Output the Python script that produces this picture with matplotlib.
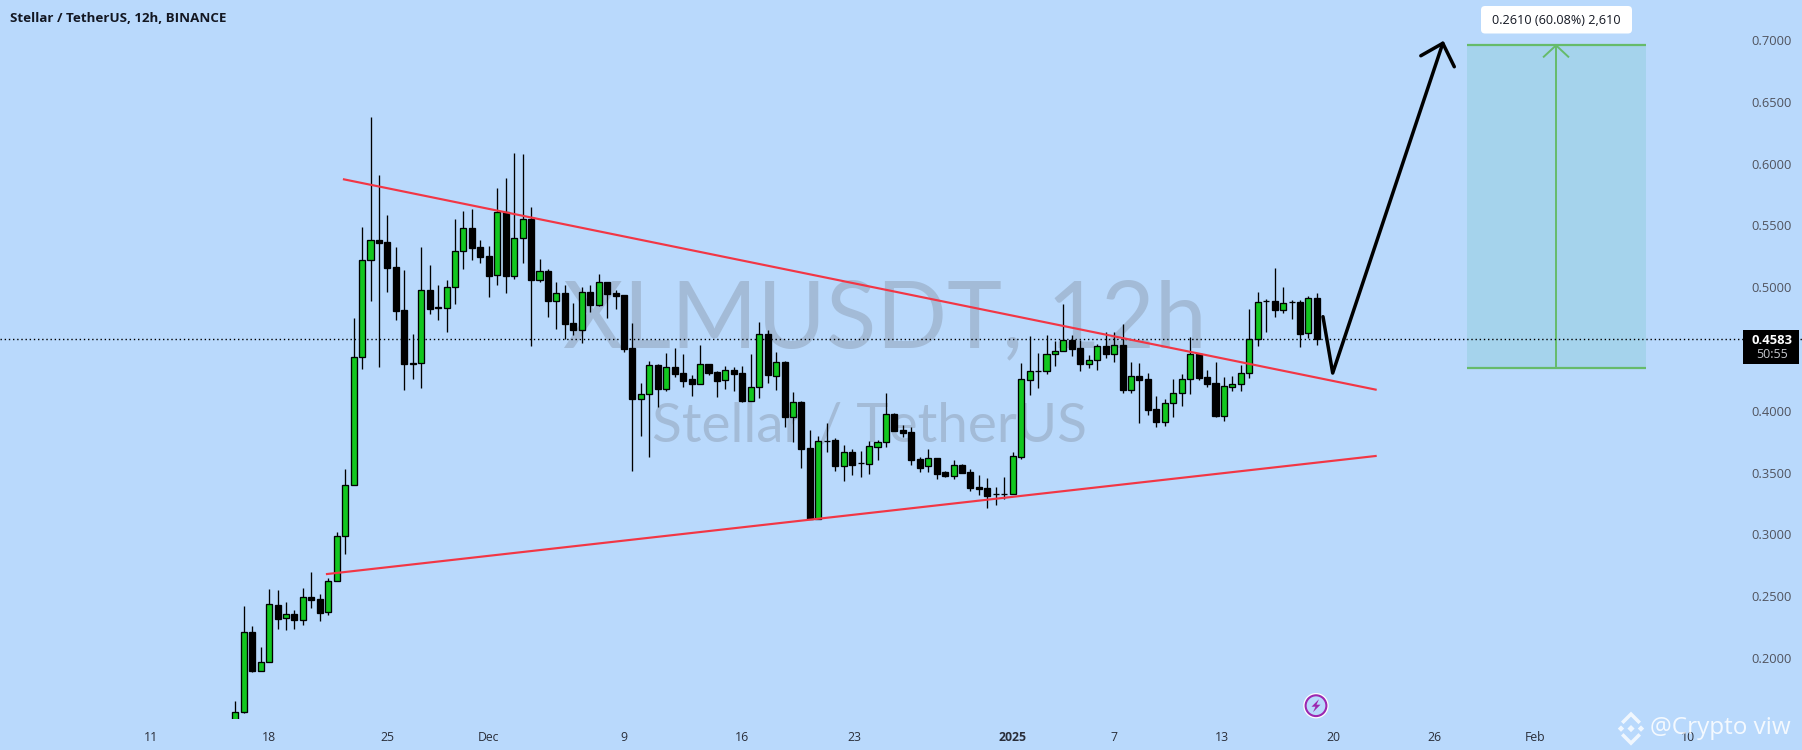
import matplotlib
matplotlib.use("Agg")
import matplotlib.pyplot as plt
from matplotlib.patches import FancyBboxPatch, Polygon, Circle, Rectangle
from matplotlib.transforms import Affine2D

opens = [.1418,.1566,.2209,.1898,.1966,.2427,.2322,.2354,.2311,.2494,
 .2475,.2371,.2621,.2985,.3398,.4433,.5218,.5380,.5364,.5161,
 .4814,.4385,.4385,.4975,.4838,.4830,.4999,.5291,.5477,.5326,
 .5250,.5097,.5609,.5094,.5396,.5552,.5061,.5129,.4891,.4951,
 .4708,.4657,.4959,.4859,.5040,.4954,.4937,.4506,.4099,.4134,
 .4369,.4179,.4353,.4306,.4256,.4220,.4377,.4312,.4247,.4328,
 .4304,.4077,.4191,.4620,.4285,.4393,.3953,.4072,.3697,.3128,
 .3759,.3764,.3556,.3667,.3576,.3573,.3710,.3746,.3973,.3845,
 .3827,.3608,.3551,.3616,.3503,.3476,.3560,.3503,.3386,.3373,
 .3326,.3326,.3325,.3629,.4252,.4321,.4320,.4458,.4482,.4571,
 .4506,.4382,.4409,.4522,.4463,.4531,.4171,.4280,.4255,.4013,
 .3912,.4061,.4142,.4255,.4463,.4272,.4223,.3961,.4196,.4215,
 .4304,.4579,.4892,.4886,.4818,.4881,.4881,.4632,.4911]
closes = [.1566,.2209,.1898,.1966,.2435,.2319,.2354,.2311,.2492,.2472,
 .2367,.2621,.2985,.3398,.4433,.5218,.5380,.5361,.5158,.4810,
 .4382,.4382,.4975,.4827,.4835,.4999,.5291,.5477,.5320,.5247,
 .5094,.5606,.5094,.5396,.5550,.5061,.5129,.4891,.4951,.4705,
 .4657,.4959,.4859,.5040,.4948,.4932,.4503,.4099,.4134,.4369,
 .4179,.4353,.4298,.4244,.4220,.4377,.4309,.4244,.4328,.4301,
 .4082,.4191,.4620,.4293,.4393,.3950,.4069,.3694,.3128,.3754,
 .3755,.3556,.3665,.3565,.3575,.3713,.3746,.3973,.3840,.3824,
 .3605,.3540,.3616,.3492,.3476,.3560,.3500,.3378,.3370,.3314,
 .3325,.3325,.3632,.4255,.4320,.4320,.4458,.4482,.4571,.4503,
 .4382,.4409,.4522,.4463,.4531,.4171,.4280,.4252,.4010,.3912,
 .4061,.4142,.4255,.4458,.4268,.4220,.3961,.4199,.4215,.4304,
 .4579,.4878,.4891,.4818,.4870,.4880,.4624,.4911,.4583]
highs = [.1653,.2421,.2260,.2090,.2559,.2551,.2454,.2389,.2567,.2696,
 .2518,.2648,.3020,.3530,.4751,.5488,.6377,.5908,.5585,.5326,
 .5140,.4622,.5326,.5180,.5018,.5059,.5552,.5617,.5633,.5382,
 .5334,.5803,.5884,.6086,.6078,.5649,.5229,.5148,.5043,.5018,
 .4873,.5002,.5018,.5107,.5040,.4978,.4937,.4711,.4226,.4403,
 .4379,.4468,.4509,.4460,.4290,.4533,.4377,.4325,.4363,.4355,
 .4363,.4460,.4719,.4654,.4476,.4403,.4153,.4080,.3845,.3797,
 .3902,.3781,.3724,.3692,.3675,.3754,.3764,.4145,.3979,.3886,
 .3870,.3627,.3692,.3616,.3513,.3602,.3570,.3530,.3481,.3457,
 .3384,.3465,.3667,.4387,.4606,.4468,.4614,.4565,.4865,.4614,
 .4573,.4452,.4541,.4638,.4638,.4703,.4395,.4387,.4306,.4120,
 .4096,.4258,.4298,.4598,.4470,.4331,.4395,.4274,.4282,.4371,
 .4824,.4962,.4905,.5156,.5002,.4897,.4897,.4929,.4954]
lows = [.1400,.1558,.1890,.1898,.1966,.2238,.2230,.2238,.2270,.2408,
 .2302,.2351,.2621,.2845,.3398,.4341,.4891,.4357,.4964,.4738,
 .4171,.4260,.4188,.4786,.4738,.4640,.4867,.5150,.5223,.5199,
 .4924,.5021,.4956,.5069,.5199,.4527,.5045,.4762,.4662,.4584,
 .4616,.4552,.4802,.4851,.4754,.4827,.4479,.3516,.3799,.3629,
 .4029,.4163,.4276,.4196,.4123,.4220,.4290,.4115,.4179,.4163,
 .4074,.4077,.4107,.4228,.4171,.3872,.3751,.3540,.3128,.3128,
 .3670,.3516,.3435,.3484,.3467,.3492,.3605,.3710,.3840,.3791,
 .3565,.3508,.3508,.3451,.3467,.3451,.3500,.3354,.3322,.3217,
 .3239,.3290,.3325,.3613,.4131,.4183,.4301,.4366,.4482,.4446,
 .4325,.4349,.4333,.4430,.4398,.4142,.4147,.3904,.3969,.3872,
 .3880,.3953,.4042,.4139,.4250,.4196,.3953,.3921,.4163,.4163,
 .4268,.4527,.4640,.4762,.4794,.4746,.4519,.4592,.4535]

price_ticks = [0.20, 0.25, 0.30, 0.35, 0.40, 0.45, 0.50, 0.55, 0.60, 0.65, 0.70]
price_labels = ["0.2000", "0.2500", "0.3000", "0.3500", "0.4000", "", "0.5000", "0.5500", "0.6000", "0.6500", "0.7000"]
date_ticks = [-10, 4, 18, 30, 46, 60, 73.3, 92, 104, 116.8, 129.9, 141.9, 153.8, 171.9]
date_labels = ["11", "18", "25", "Dec", "9", "16", "23", "2025", "7", "13", "20", "26", "Feb", "10"]

upper_x, upper_y = [12.86, 134.95], [.5873, .4172]
lower_x, lower_y = [10.85, 134.95], [.2680, .3635]
path_x, path_y = [128.72, 129.87, 142.9], [.4762, .4306, .6974]
head_x, head_y = [140.3, 142.9, 144.26], [.6873, .6974, .6784]
range_x0, range_x1, range_mid = 145.8, 166.95, 156.3
range_low, range_high = .4347, .6957
last_price = .4583

BG = "#b9d9fc"
GREEN = "#12c71f"
RED = "#f23645"
TV = "#66bb6a"
FONT = ["Open Sans", "DejaVu Sans"]
plt.rcParams["font.family"] = FONT

W, H, PANE = 1802, 750, 718.5
fig = plt.figure(figsize=(W / 100, H / 100), dpi=100, facecolor=BG)
ax = fig.add_axes([0, (H - PANE) / H, 1, PANE / H], facecolor=BG)
DX, X0 = 8.45, 235.3
ax.set_xlim(-X0 / DX, (W - X0) / DX)
ax.set_ylim(.7324 - .000809 * PANE, .7324)
for s in ax.spines.values():
    s.set_visible(False)
px = Affine2D().scale(1, -1).translate(0, H)

# watermark
ax.text(885, 347, "XLMUSDT, 12h", transform=px, ha="center", va="baseline", fontsize=67,
        color="#a3bbd7", family="Lato", zorder=1)
ax.text(870, 441.7, "Stellar / TetherUS", transform=px, ha="center", va="baseline", fontsize=39.5,
        color="#a3bbd7", family="Lato", zorder=1)

# range projection
ax.add_patch(Rectangle((range_x0, range_low), range_x1 - range_x0, range_high - range_low,
                       fc="#a5d3ec", ec="none", zorder=2))
ax.hlines([range_low, range_high], range_x0, range_x1, color=TV, lw=1.6, zorder=3)
ax.plot([range_mid, range_mid], [range_low, range_high], color=TV, lw=1.4, zorder=3)
ax.plot([range_mid - 1.45, range_mid, range_mid + 1.45], [range_high - .0092, range_high, range_high - .0092],
        color=TV, lw=1.4, zorder=3)

# last price line
ax.axhline(last_price, color="#000000", lw=1.0, dashes=(1, 2), zorder=3)

# candles
idx = list(range(len(opens)))
ax.vlines(idx, lows, highs, color="black", lw=0.95, zorder=4)
bottoms = [min(o, c) for o, c in zip(opens, closes)]
heights = [abs(c - o) for o, c in zip(opens, closes)]
colors = [GREEN if c >= o else "black" for o, c in zip(opens, closes)]
ax.bar(idx, heights, bottom=bottoms, width=0.72, color=colors, edgecolor="black", linewidth=0.95, zorder=5)

# trend lines and drawn path
ax.plot(upper_x, upper_y, color=RED, lw=1.55, zorder=6)
ax.plot(lower_x, lower_y, color=RED, lw=1.55, zorder=6)
ax.plot(path_x, path_y, color="black", lw=2.5, solid_capstyle="round", solid_joinstyle="round", zorder=7)
ax.plot(head_x, head_y, color="black", lw=2.5, solid_capstyle="round", solid_joinstyle="round", zorder=7)

# axes
ax.set_xticks(date_ticks, date_labels)
ax.set_yticks(price_ticks, price_labels)
ax.tick_params(axis="x", length=0, pad=9, labelsize=8.8, colors="#2a2e39")
ax.tick_params(axis="y", length=0, labelleft=False, labelright=True, left=False, right=False,
               pad=-36.5, labelsize=9.3, labelcolor="#50535e")
ax.get_xticklabels()[date_labels.index("2025")].set_fontweight("bold")

# range label
ax.add_artist(FancyBboxPatch((1484, 9), 145, 21.5, boxstyle="round,pad=3,rounding_size=4", transform=px,
                             fc="white", ec="none", clip_on=False, zorder=8))
ax.text(1556, 20.3, "0.2610 (60.08%) 2,610", transform=px, ha="center", va="center", fontsize=9.1,
        color="#131722", zorder=9)

# title
ax.text(10, 18, "Stellar / TetherUS, 12h, BINANCE", transform=px, ha="left", va="center", fontsize=9.6,
        fontweight="bold", color="#131722", zorder=9)

# price badge
ax.add_artist(Rectangle((1743, 330), 55.5, 34, transform=px, fc="black", ec="none", clip_on=False, zorder=8))
ax.text(1772, 340, f"{last_price:.4f}", transform=px, ha="center", va="center", fontsize=9.4,
        fontweight="bold", color="white", zorder=9)
ax.text(1772, 355, "50:55", transform=px, ha="center", va="center", fontsize=9, color="#c4c6cc", zorder=9)

# event icon
ix, iy = 1316, 705.7
ax.add_artist(Circle((ix, iy), 12.7, transform=px, fc="white", ec="none", clip_on=False, zorder=8))
ax.add_artist(Circle((ix, iy), 10.4, transform=px, fc=BG, ec="#9c27b0", lw=1.5, clip_on=False, zorder=9))
ax.add_artist(Polygon([(ix + 3, iy - 6.5), (ix - 4.5, iy + 1), (ix - 0.5, iy + 1), (ix - 3, iy + 6.5),
                       (ix + 4.5, iy - 1), (ix + 0.5, iy - 1)], transform=px, fc="#9c27b0", ec="none",
                      clip_on=False, zorder=10))

# signature
white = dict(fc="white", ec="none", alpha=0.8, transform=px, clip_on=False, zorder=9)
cx, cy = 1631, 728.6
for dx, dy, r in [(0, 0, 3.6), (-10, 0, 3.2), (10, 0, 3.2)]:
    ax.add_artist(Polygon([(cx + dx - r, cy + dy), (cx + dx, cy + dy - r), (cx + dx + r, cy + dy), (cx + dx, cy + dy + r)], **white))
for sgn in (-1, 1):
    ax.add_artist(Polygon([(cx - 10, cy + sgn * 7), (cx, cy + sgn * 17), (cx + 10, cy + sgn * 7),
                           (cx + 7.5, cy + sgn * 4.5), (cx, cy + sgn * 12), (cx - 7.5, cy + sgn * 4.5)], **white))
ax.text(1650, 728.5, "@Crypto viw", transform=px, ha="left", va="center", fontsize=17.5, color="white",
        alpha=0.85, zorder=10)

fig.savefig("out.png", dpi=100, facecolor=BG)
